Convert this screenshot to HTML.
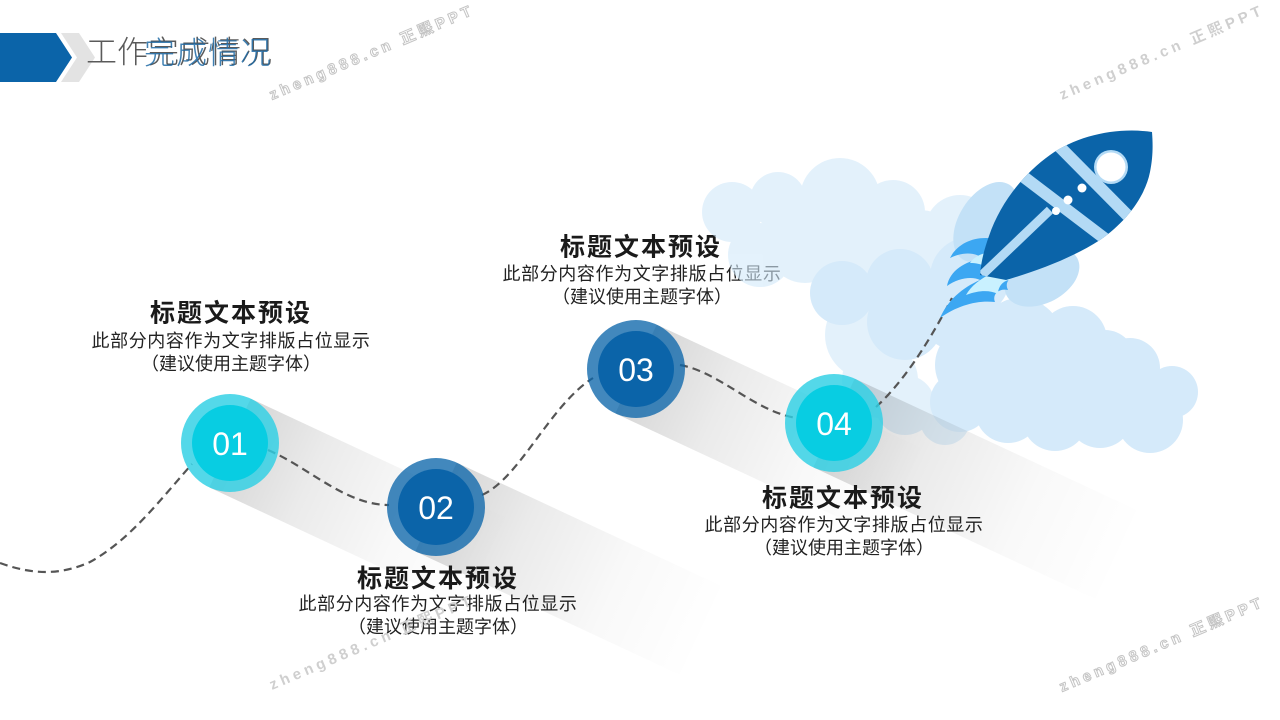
<!DOCTYPE html>
<html><head><meta charset="utf-8"><style>
html,body{margin:0;padding:0;background:#fff;}
svg{display:block;}
text{font-family:"Liberation Sans","Noto Sans CJK SC",sans-serif;}
</style></head><body>
<svg width="1280" height="720" viewBox="0 0 1280 720" xmlns="http://www.w3.org/2000/svg">
<defs>
 <linearGradient id="sh" x1="0" y1="0" x2="1" y2="0">
  <stop offset="0" stop-color="#000" stop-opacity="0.16"/>
  <stop offset="0.3" stop-color="#000" stop-opacity="0.08"/>
  <stop offset="0.65" stop-color="#000" stop-opacity="0.025"/>
  <stop offset="1" stop-color="#000" stop-opacity="0"/>
 </linearGradient>
 <clipPath id="bodyclip"><path d="M1152,132 C1118,127 1078,135 1050,155 C1022,175 1000,204 989,236 C984,250 981,262 980,275 L1006,280 C1037,271 1072,258 1100,240 C1126,222 1145,197 1150,172 C1153,157 1153,145 1152,132 Z"/></clipPath>
</defs>
<rect width="1280" height="720" fill="#fff"/>

<!-- header -->
<polygon points="0,33 56,33 72,57.5 56,82 0,82" fill="#0b64a9"/>
<polygon points="61,33 79,33 95,57.5 79,82 61,82 77,57.5" fill="#e3e3e3"/>
<text x="86" y="63" font-size="31" font-weight="300" fill="#5a5a5a">工作完成情况</text>
<text x="144" y="64" font-size="31" font-weight="300" fill="#1f6aa5" fill-opacity="0.85" letter-spacing="1">完成情况</text>

<!-- text block 3 (under clouds) -->
<g text-anchor="middle" fill="#1a1a1a">
 <text x="641" y="255.5" font-size="25" font-weight="bold" letter-spacing="2">标题文本预设</text>
 <text x="642" y="280" font-size="18" letter-spacing="0.6" fill="#222">此部分内容作为文字排版占位显示</text>
 <text x="642" y="303" font-size="18" fill="#222">（建议使用主题字体）</text>
</g>

<!-- clouds back layer -->
<g fill="#d2e9fa" opacity="0.6">
 <circle cx="732" cy="212" r="30"/>
 <circle cx="778" cy="200" r="28"/>
 <circle cx="840" cy="198" r="40"/>
 <circle cx="893" cy="212" r="32"/>
 <circle cx="760" cy="255" r="32"/>
 <circle cx="805" cy="245" r="38"/>
 <circle cx="855" cy="240" r="42"/>
 <circle cx="920" cy="250" r="40"/>
 <circle cx="870" cy="335" r="45"/>
 <circle cx="880" cy="380" r="38"/>
 <circle cx="905" cy="405" r="30"/>
 <circle cx="945" cy="420" r="25"/>
 <circle cx="960" cy="230" r="35"/>
</g>
<!-- clouds front layer -->
<g fill="#d5eafa">
 <circle cx="842" cy="293" r="32"/>
 <circle cx="900" cy="283" r="34"/>
 <circle cx="905" cy="322" r="38"/>
 <circle cx="957" cy="310" r="40"/>
 <circle cx="970" cy="277" r="40"/>
 <circle cx="975" cy="365" r="40"/>
 <circle cx="1020" cy="340" r="42"/>
 <circle cx="1073" cy="340" r="34"/>
 <circle cx="1105" cy="360" r="30"/>
 <circle cx="1130" cy="368" r="30"/>
 <circle cx="1172" cy="392" r="26"/>
 <circle cx="1150" cy="420" r="33"/>
 <circle cx="1100" cy="415" r="33"/>
 <circle cx="1055" cy="418" r="33"/>
 <circle cx="1008" cy="410" r="33"/>
 <circle cx="960" cy="402" r="30"/>
 <circle cx="1050" cy="385" r="40"/>
</g>

<!-- shadows -->
<rect x="0" y="-49" width="290" height="98" fill="url(#sh)" transform="translate(230,443) rotate(25)"/>
<rect x="0" y="-49" width="300" height="98" fill="url(#sh)" transform="translate(436,507) rotate(25)"/>
<rect x="0" y="-49" width="300" height="98" fill="url(#sh)" transform="translate(636,369) rotate(25)"/>
<rect x="0" y="-49" width="320" height="98" fill="url(#sh)" transform="translate(834,423) rotate(25)"/>

<!-- text blocks 1,2,4 -->
<g text-anchor="middle" fill="#1a1a1a">
 <text x="231" y="321.5" font-size="25" font-weight="bold" letter-spacing="2">标题文本预设</text>
 <text x="231" y="347" font-size="18" letter-spacing="0.6" fill="#222">此部分内容作为文字排版占位显示</text>
 <text x="231" y="370" font-size="18" fill="#222">（建议使用主题字体）</text>

 <text x="438" y="587" font-size="25" font-weight="bold" letter-spacing="2">标题文本预设</text>
 <text x="438" y="610" font-size="18" letter-spacing="0.6" fill="#222">此部分内容作为文字排版占位显示</text>
 <text x="438" y="633" font-size="18" fill="#222">（建议使用主题字体）</text>

 <text x="843" y="506.5" font-size="25" font-weight="bold" letter-spacing="2">标题文本预设</text>
 <text x="844" y="531" font-size="18" letter-spacing="0.6" fill="#222">此部分内容作为文字排版占位显示</text>
 <text x="844" y="554" font-size="18" fill="#222">（建议使用主题字体）</text>
</g>

<!-- dashed connectors -->
<g fill="none" stroke="#555" stroke-width="2.2" stroke-dasharray="8 5">
 <path d="M0,563 C25,572 55,578 90,562 C130,540 160,500 192,464"/>
 <path d="M268,450 C310,468 345,505 389,505"/>
 <path d="M482,495 C520,478 550,405 593,378"/>
 <path d="M680,365 C720,372 755,412 797,418"/>
 <path d="M876,407 C900,385 925,350 952,298"/>
</g>

<!-- circles -->
<g>
 <circle cx="230" cy="443" r="49" fill="#2ed0e4" fill-opacity="0.82"/>
 <circle cx="230" cy="443" r="38" fill="#08cde2"/>
 <circle cx="436" cy="507" r="49" fill="#0d66aa" fill-opacity="0.78"/>
 <circle cx="436" cy="507" r="38" fill="#0b64a9"/>
 <circle cx="636" cy="369" r="49" fill="#0d66aa" fill-opacity="0.78"/>
 <circle cx="636" cy="369" r="38" fill="#0b64a9"/>
 <circle cx="834" cy="423" r="49" fill="#2ed0e4" fill-opacity="0.82"/>
 <circle cx="834" cy="423" r="38" fill="#08cde2"/>
</g>
<g text-anchor="middle" fill="#fff" font-size="32">
 <text x="230" y="455">01</text>
 <text x="436" y="519">02</text>
 <text x="636" y="381">03</text>
 <text x="834" y="435">04</text>
</g>

<!-- rocket -->
<g>
 <ellipse cx="986" cy="222" rx="44" ry="27" fill="#c3e1f7" transform="rotate(-58 986 222)"/>
 <ellipse cx="1042" cy="277" rx="40" ry="26" fill="#c3e1f7" transform="rotate(-28 1042 277)"/>
 <path d="M1000,240 C978,234 958,242 950,258 C962,252 975,252 982,258 C965,262 950,270 947,286 C958,278 972,276 980,280 C962,288 948,300 940,318 C958,305 978,300 995,302 C992,295 998,288 1008,290 C1004,282 1010,276 1020,275 L1012,250 Z" fill="#3ca7f2"/>
 <path d="M995,252 C982,252 974,257 970,263 C981,263 990,267 992,273 C980,279 971,286 966,295 C979,290 990,290 998,294 C998,286 1004,280 1010,280 Z" fill="#c9f1ff"/>
 <path d="M1152,132 C1118,127 1078,135 1050,155 C1022,175 1000,204 989,236 C984,250 981,262 980,275 L1006,280 C1037,271 1072,258 1100,240 C1126,222 1145,197 1150,172 C1153,157 1153,145 1152,132 Z" fill="#0b64a9"/>
 <g clip-path="url(#bodyclip)" stroke="#b3daf5" stroke-linecap="butt">
  <line x1="1045" y1="132" x2="1140" y2="228" stroke-width="12"/>
  <line x1="1012" y1="168" x2="1108" y2="241" stroke-width="12"/>
  <line x1="982" y1="275" x2="1050" y2="210" stroke-width="9"/>
 </g>
 <circle cx="1111" cy="167" r="17" fill="#b3daf5"/>
 <circle cx="1111" cy="167" r="14.5" fill="#fff"/>
 <circle cx="1082" cy="188" r="4.5" fill="#fff"/>
 <circle cx="1068" cy="200" r="4.5" fill="#fff"/>
 <circle cx="1056" cy="211" r="4" fill="#fff"/>
</g>

<!-- watermarks -->
<g font-size="15" font-weight="bold" letter-spacing="4">
 <text transform="translate(272,100) rotate(-23)" fill="#fff" stroke="#c4c4c4" stroke-width="1">zheng888.cn 正熙PPT</text>
 <text transform="translate(1062,100) rotate(-23)" fill="#cfcfcf">zheng888.cn 正熙PPT</text>
 <text transform="translate(272,690) rotate(-23)" fill="#cfcfcf">zheng888.cn 正熙PPT</text>
 <text transform="translate(1062,692) rotate(-23)" fill="#fff" stroke="#c4c4c4" stroke-width="1">zheng888.cn 正熙PPT</text>
</g>
</svg>
</body></html>
